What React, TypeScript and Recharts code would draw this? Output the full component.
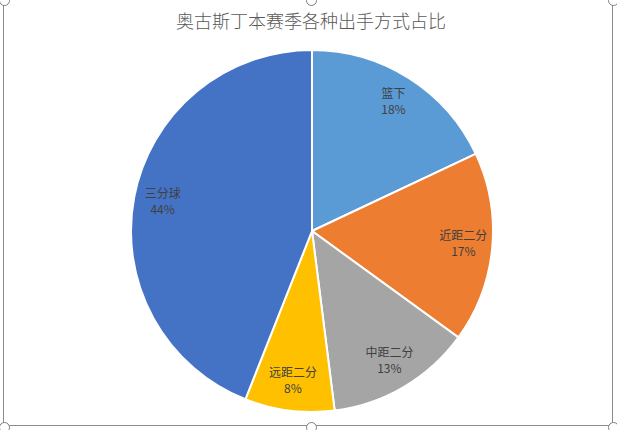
import { PieChart, Pie, Cell } from "recharts";

const shotTypes = ["篮下", "近距二分", "中距二分", "远距二分", "三分球"];
const shotShares = [18, 17, 13, 8, 44];
const sliceColors = ["#5B9BD5", "#ED7D31", "#A5A5A5", "#FFC000", "#4472C4"];

const data = shotTypes.map((name, i) => ({ name, value: shotShares[i] }));

const RAD = Math.PI / 180;
const labelFont = "'Noto Sans CJK SC', 'Noto Sans', sans-serif";

// two-line label (name + percent) sitting inside each slice
function renderLabel(props: any) {
  const { cx, cy, midAngle, outerRadius, percent, name } = props;
  const r = outerRadius * 0.84;
  const x = cx + r * Math.cos(-midAngle * RAD);
  const y = cy + r * Math.sin(-midAngle * RAD);
  return (
    <g>
      <text x={x} y={y - 5} textAnchor="middle" fill="#404040" fontSize={12} fontFamily={labelFont}>
        {name}
      </text>
      <text x={x} y={y + 11} textAnchor="middle" fill="#404040" fontSize={12} fontFamily={labelFont}>
        {`${Math.round(percent * 100)}%`}
      </text>
    </g>
  );
}

const handles = [
  [4, 0], [311, 0], [613, 0],
  [4, 427], [311, 427], [613, 427],
];

export default function App() {
  return (
    <div style={{ position: "fixed", left: 0, top: 0, width: 617, height: 430, background: "#fff", overflow: "hidden" }}>
      <div
        style={{
          position: "absolute",
          left: 3,
          top: -2,
          width: 610,
          height: 428,
          border: "1px solid #8c8c8c",
          boxSizing: "border-box",
        }}
      />
      <div
        style={{
          position: "absolute",
          left: 0,
          top: 8,
          width: 622,
          textAlign: "center",
          fontSize: 18,
          color: "#595959",
          fontFamily: "'Noto Sans CJK SC', sans-serif",
          fontWeight: 300,
          lineHeight: "24px",
        }}
      >
        奥古斯丁本赛季各种出手方式占比
      </div>
      <PieChart
        width={617}
        height={430}
        margin={{ top: 0, right: 0, bottom: 0, left: 0 }}
        style={{ position: "absolute", left: 0, top: 0 }}
      >
        <Pie
          data={data}
          dataKey="value"
          nameKey="name"
          cx={312}
          cy={231}
          outerRadius={181}
          startAngle={90}
          endAngle={-270}
          stroke="#ffffff"
          strokeWidth={2}
          label={renderLabel}
          labelLine={false}
          isAnimationActive={false}
        >
          {data.map((d, i) => (
            <Cell key={d.name} fill={sliceColors[i]} />
          ))}
        </Pie>
      </PieChart>
      {handles.map(([x, y], i) => (
        <div
          key={i}
          style={{
            position: "absolute",
            left: x - 5,
            top: y - 5,
            width: 9,
            height: 9,
            borderRadius: "50%",
            border: "1px solid #7f7f7f",
            background: "#fff",
          }}
        />
      ))}
    </div>
  );
}
